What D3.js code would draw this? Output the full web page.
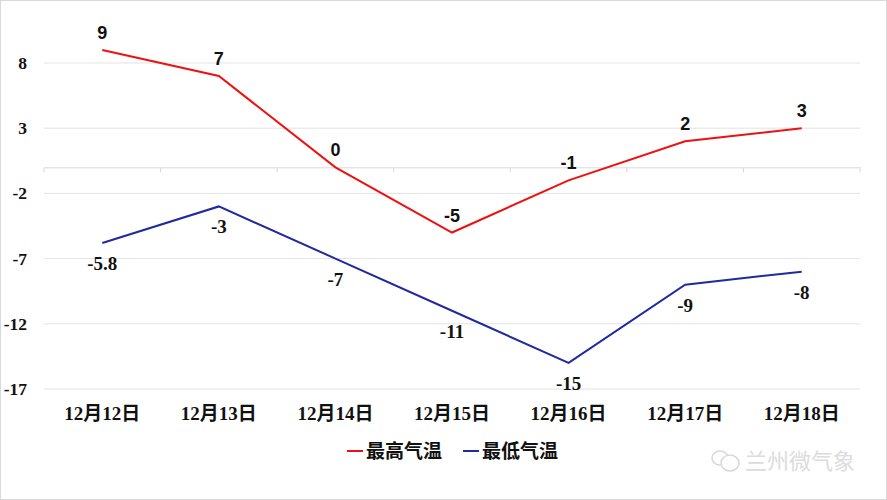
<!DOCTYPE html>
<html>
<head>
<meta charset="utf-8">
<script src="https://cdn.jsdelivr.net/npm/d3@7"></script>
<style>
  html, body { margin: 0; padding: 0; background: #fff; }
  svg { display: block; }
</style>
</head>
<body>
<div id="chart"></div>
<script>
const days = ['12月12日','12月13日','12月14日','12月15日','12月16日','12月17日','12月18日'];
const maxTemp = [9, 7, 0, -5, -1, 2, 3];
const minTemp = [-5.8, -3, -7, -11, -15, -9, -8];
const yTicks = [8, 3, -2, -7, -12, -17];

const width = 887, height = 500;
const svg = d3.select('#chart').append('svg')
  .attr('width', width).attr('height', height);

// frame
svg.append('rect')
  .attr('x', 0.5).attr('y', 0.5)
  .attr('width', width - 1).attr('height', height - 1)
  .attr('fill', '#fff').attr('stroke', '#d9d9d9');

const x = d3.scaleBand().domain(days).range([44, 860]);
const y = d3.scaleLinear().domain([-17, 8]).range([389, 63]);

const serif = '"Liberation Serif", "Noto Sans CJK SC", serif';
const sans = '"Liberation Sans", "Noto Sans CJK SC", sans-serif';

// gridlines
svg.append('g')
  .selectAll('line')
  .data(yTicks)
  .enter().append('line')
  .attr('x1', 44).attr('x2', 860)
  .attr('y1', d => y(d)).attr('y2', d => y(d))
  .attr('stroke', '#e3e3e3').attr('stroke-width', 1);

// y tick labels
svg.append('g')
  .selectAll('text')
  .data(yTicks)
  .enter().append('text')
  .attr('x', 27).attr('y', d => y(d) + 6)
  .attr('text-anchor', 'end')
  .attr('font-family', serif).attr('font-weight', 700).attr('font-size', 17.5)
  .attr('fill', '#111')
  .text(d => d);

// category axis crossing at zero
const xAxis = d3.axisBottom(x).tickSize(0).tickFormat('');
const gx = svg.append('g').attr('transform', `translate(0,${y(0)})`).call(xAxis);
gx.select('.domain').attr('stroke', '#d9d9d9');
const bounds = days.map(d => x(d)).concat([x.range()[1]]);
gx.selectAll('.bound')
  .data(bounds)
  .enter().append('line')
  .attr('x1', d => d).attr('x2', d => d)
  .attr('y1', 0).attr('y2', 5)
  .attr('stroke', '#d9d9d9');

// x labels
svg.append('g')
  .selectAll('text')
  .data(days)
  .enter().append('text')
  .attr('x', d => x(d) + x.bandwidth() / 2)
  .attr('y', 420)
  .attr('text-anchor', 'middle')
  .attr('font-family', serif).attr('font-weight', 700).attr('font-size', 19)
  .attr('fill', '#111')
  .text(d => d);

const line = d3.line()
  .x((d, i) => x(days[i]) + x.bandwidth() / 2)
  .y(d => y(d));

svg.append('path').datum(maxTemp)
  .attr('d', line).attr('fill', 'none')
  .attr('stroke', '#ee1111').attr('stroke-width', 2);
svg.append('path').datum(minTemp)
  .attr('d', line).attr('fill', 'none')
  .attr('stroke', '#1f2a9e').attr('stroke-width', 2);

// data labels
svg.append('g')
  .selectAll('text')
  .data(maxTemp)
  .enter().append('text')
  .attr('x', (d, i) => x(days[i]) + x.bandwidth() / 2)
  .attr('y', d => y(d) - 11)
  .attr('text-anchor', 'middle')
  .attr('font-family', sans).attr('font-weight', 700).attr('font-size', 18)
  .attr('fill', '#111')
  .text(d => d);

svg.append('g')
  .selectAll('text')
  .data(minTemp)
  .enter().append('text')
  .attr('x', (d, i) => x(days[i]) + x.bandwidth() / 2)
  .attr('y', d => y(d) + 27)
  .attr('text-anchor', 'middle')
  .attr('font-family', serif).attr('font-weight', 700).attr('font-size', 19)
  .attr('fill', '#111')
  .text(d => d);

// legend
const legend = [
  {name: '最高气温', color: '#ee1111', x: 347},
  {name: '最低气温', color: '#1f2a9e', x: 463}
];
const lg = svg.append('g').selectAll('g').data(legend).enter().append('g')
  .attr('transform', d => `translate(${d.x},451)`);
lg.append('line').attr('x1', 0).attr('x2', 16).attr('y1', 0).attr('y2', 0)
  .attr('stroke', d => d.color).attr('stroke-width', 2);
lg.append('text').attr('x', 19).attr('y', 7)
  .attr('font-family', '"Noto Sans CJK SC", sans-serif').attr('font-weight', 700)
  .attr('font-size', 19).attr('fill', '#111')
  .text(d => d.name);

// watermark
const wm = svg.append('g').attr('transform', 'translate(712,460)').attr('opacity', 0.8);
wm.append('ellipse').attr('cx', 8).attr('cy', -2).attr('rx', 8).attr('ry', 7)
  .attr('fill', 'none').attr('stroke', '#cfcfcf').attr('stroke-width', 1.5);
wm.append('ellipse').attr('cx', 18).attr('cy', 3).attr('rx', 9).attr('ry', 8)
  .attr('fill', '#fff').attr('stroke', '#cfcfcf').attr('stroke-width', 1.5);
wm.append('text').attr('x', 33).attr('y', 9)
  .attr('font-family', '"Noto Sans CJK SC", sans-serif').attr('font-size', 22)
  .attr('fill', '#d4d4d4')
  .text('兰州微气象');
</script>
</body>
</html>
